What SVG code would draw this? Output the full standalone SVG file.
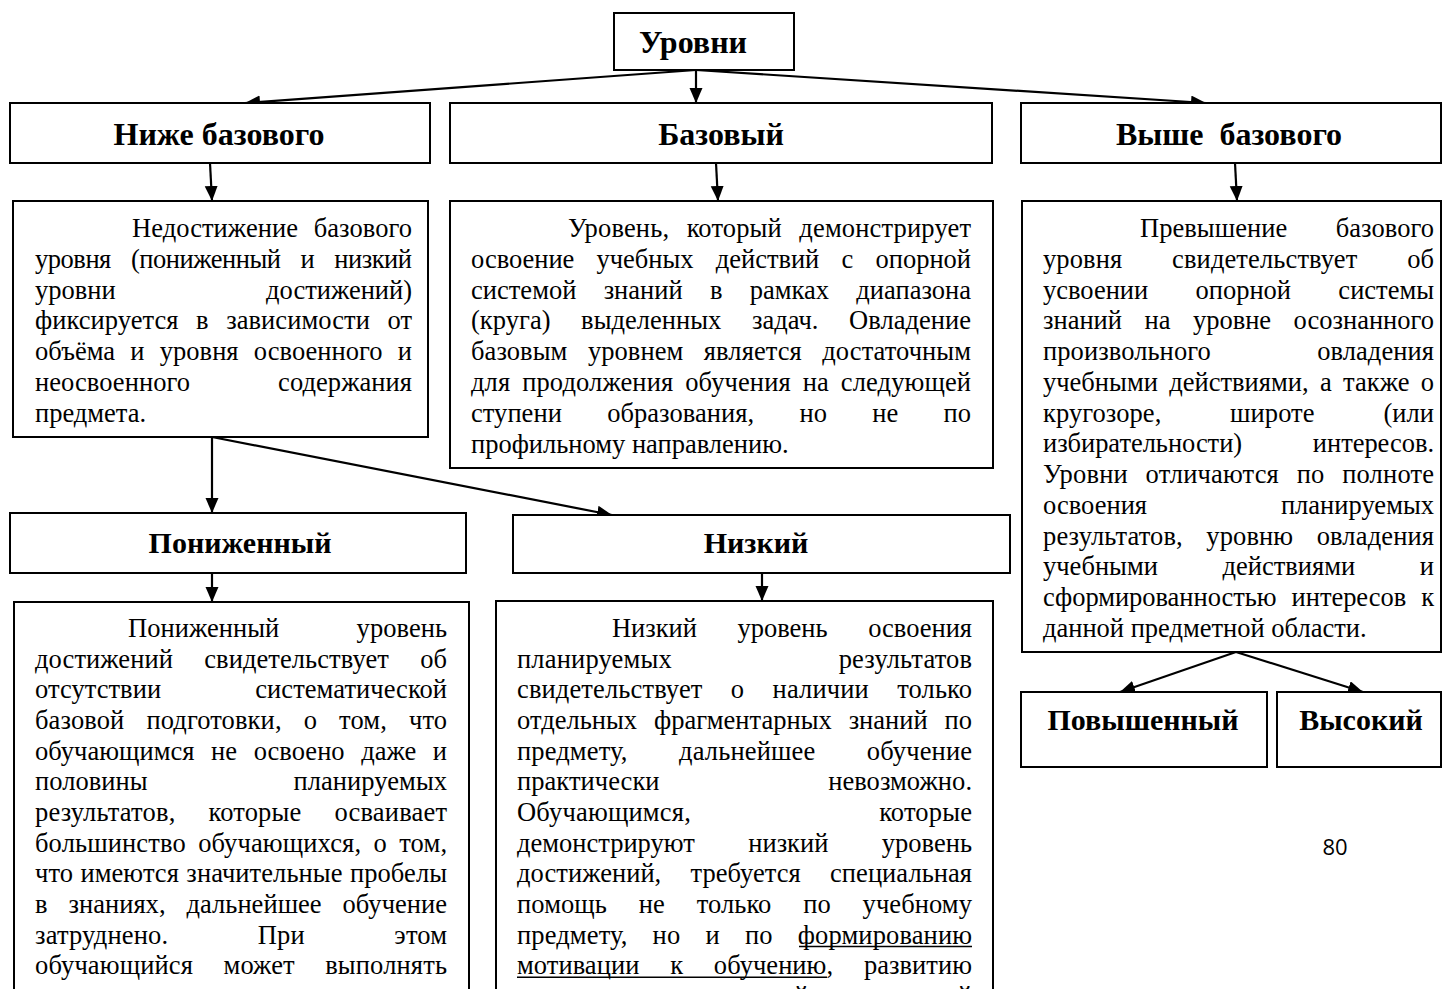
<svg xmlns="http://www.w3.org/2000/svg" width="1443" height="989" viewBox="0 0 1443 989">
<style>
.b{fill:#fff;stroke:#000;stroke-width:2}
.h{font-family:"Liberation Serif","Times New Roman",serif;font-weight:bold;font-size:30px;text-anchor:middle;fill:#000}
.hl{font-size:32px}
.t{font-family:"Liberation Serif","Times New Roman",serif;font-size:26.5px;fill:#000}
.c{fill:none;stroke:#000;stroke-width:2.2;marker-end:url(#a)}
.u{stroke:#000;stroke-width:1.4}
</style>
<defs>
<marker id="a" markerUnits="userSpaceOnUse" markerWidth="16" markerHeight="14" refX="15" refY="6.5" orient="auto">
<path d="M0,0 L15,6.5 L0,13 z" fill="#000"/>
</marker>
</defs>
<rect width="1443" height="989" fill="#fff"/>

<g id="connectors">
<line class="c" x1="696" y1="70" x2="245" y2="103"/>
<line class="c" x1="696" y1="70" x2="696" y2="103"/>
<line class="c" x1="696" y1="70" x2="1206" y2="103"/>
<line class="c" x1="210" y1="163" x2="212" y2="201"/>
<line class="c" x1="716" y1="163" x2="718" y2="201"/>
<line class="c" x1="1235" y1="163" x2="1237" y2="201"/>
<line class="c" x1="212" y1="437" x2="212" y2="513"/>
<line class="c" x1="212" y1="437" x2="612" y2="515"/>
<line class="c" x1="212" y1="573" x2="212" y2="602"/>
<line class="c" x1="762" y1="573" x2="762" y2="601"/>
<line class="c" x1="1236" y1="652" x2="1120" y2="692"/>
<line class="c" x1="1236" y1="652" x2="1363" y2="692"/>
</g>

<g id="n-urovni">
<rect class="b" x="614" y="13" width="180" height="57"/>
<text class="h hl" x="693" y="53">Уровни</text>
</g>

<g id="n-nizhe">
<rect class="b" x="10" y="103" width="420" height="60"/>
<text class="h hl" x="219" y="145">Ниже базового</text>
</g>

<g id="n-bazovyi">
<rect class="b" x="450" y="103" width="542" height="60"/>
<text class="h hl" x="721" y="145">Базовый</text>
</g>

<g id="n-vyshe">
<rect class="b" x="1021" y="103" width="420" height="60"/>
<text class="h hl" x="1229" y="145" style="white-space:pre">Выше  базового</text>
</g>

<g id="n-nizhe-desc">
<rect class="b" x="13" y="201" width="415" height="236"/>
<text class="t" x="132" y="237" textLength="280" lengthAdjust="spacing" word-spacing="9.1">Недостижение базового</text>
<text class="t" x="35" y="268" textLength="377" lengthAdjust="spacing" word-spacing="13.9">уровня (пониженный и низкий</text>
<text class="t" x="35" y="299" textLength="377" lengthAdjust="spacing" word-spacing="143.9">уровни достижений)</text>
<text class="t" x="35" y="329" textLength="377" lengthAdjust="spacing" word-spacing="10.9">фиксируется в зависимости от</text>
<text class="t" x="35" y="360" textLength="377" lengthAdjust="spacing" word-spacing="8.5">объёма и уровня освоенного и</text>
<text class="t" x="35" y="391" textLength="377" lengthAdjust="spacing" word-spacing="81.4">неосвоенного содержания</text>
<text class="t" x="35" y="422">предмета.</text>
</g>

<g id="n-bazovyi-desc">
<rect class="b" x="450" y="201" width="543" height="267"/>
<text class="t" x="568" y="237" textLength="403" lengthAdjust="spacing" word-spacing="10.6">Уровень, который демонстрирует</text>
<text class="t" x="471" y="268" textLength="500" lengthAdjust="spacing" word-spacing="15.7">освоение учебных действий с опорной</text>
<text class="t" x="471" y="299" textLength="500" lengthAdjust="spacing" word-spacing="20.6">системой знаний в рамках диапазона</text>
<text class="t" x="471" y="329" textLength="500" lengthAdjust="spacing" word-spacing="23.9">(круга) выделенных задач. Овладение</text>
<text class="t" x="471" y="360" textLength="500" lengthAdjust="spacing" word-spacing="13.8">базовым уровнем является достаточным</text>
<text class="t" x="471" y="391" textLength="500" lengthAdjust="spacing" word-spacing="5.2">для продолжения обучения на следующей</text>
<text class="t" x="471" y="422" textLength="500" lengthAdjust="spacing" word-spacing="38.6">ступени образования, но не по</text>
<text class="t" x="471" y="453">профильному направлению.</text>
</g>

<g id="n-vyshe-desc">
<rect class="b" x="1022" y="201" width="419" height="451"/>
<text class="t" x="1140" y="237" textLength="294" lengthAdjust="spacing" word-spacing="41.8">Превышение базового</text>
<text class="t" x="1043" y="267.8" textLength="391" lengthAdjust="spacing" word-spacing="43">уровня свидетельствует об</text>
<text class="t" x="1043" y="298.5" textLength="391" lengthAdjust="spacing" word-spacing="40.7">усвоении опорной системы</text>
<text class="t" x="1043" y="329.3" textLength="391" lengthAdjust="spacing" word-spacing="15.9">знаний на уровне осознанного</text>
<text class="t" x="1043" y="360" textLength="391" lengthAdjust="spacing" word-spacing="99.6">произвольного овладения</text>
<text class="t" x="1043" y="390.8" textLength="391" lengthAdjust="spacing" word-spacing="4.7">учебными действиями, а также о</text>
<text class="t" x="1043" y="421.5" textLength="391" lengthAdjust="spacing" word-spacing="62.1">кругозоре, широте (или</text>
<text class="t" x="1043" y="452.3" textLength="391" lengthAdjust="spacing" word-spacing="64.2">избирательности) интересов.</text>
<text class="t" x="1043" y="483" textLength="391" lengthAdjust="spacing" word-spacing="10.9">Уровни отличаются по полноте</text>
<text class="t" x="1043" y="513.8" textLength="391" lengthAdjust="spacing" word-spacing="127.2">освоения планируемых</text>
<text class="t" x="1043" y="544.5" textLength="391" lengthAdjust="spacing" word-spacing="16.6">результатов, уровню овладения</text>
<text class="t" x="1043" y="575.3" textLength="391" lengthAdjust="spacing" word-spacing="57.9">учебными действиями и</text>
<text class="t" x="1043" y="606" textLength="391" lengthAdjust="spacing" word-spacing="8.4">сформированностью интересов к</text>
<text class="t" x="1043" y="636.8">данной предметной области.</text>
</g>

<g id="n-ponizhennyi">
<rect class="b" x="10" y="513" width="456" height="60"/>
<text class="h" x="240" y="553">Пониженный</text>
</g>

<g id="n-nizkii">
<rect class="b" x="513" y="515" width="497" height="58"/>
<text class="h" x="756" y="553">Низкий</text>
</g>

<g id="n-ponizhennyi-desc">
<rect class="b" x="14" y="602" width="455" height="400"/>
<text class="t" x="128" y="637" textLength="319" lengthAdjust="spacing" word-spacing="70.7">Пониженный уровень</text>
<text class="t" x="35" y="667.7" textLength="412" lengthAdjust="spacing" word-spacing="24.6">достижений свидетельствует об</text>
<text class="t" x="35" y="698.3" textLength="412" lengthAdjust="spacing" word-spacing="87.5">отсутствии систематической</text>
<text class="t" x="35" y="729" textLength="412" lengthAdjust="spacing" word-spacing="15.3">базовой подготовки, о том, что</text>
<text class="t" x="35" y="759.6" textLength="412" lengthAdjust="spacing" word-spacing="9.9">обучающимся не освоено даже и</text>
<text class="t" x="35" y="790.3" textLength="412" lengthAdjust="spacing" word-spacing="139.2">половины планируемых</text>
<text class="t" x="35" y="820.9" textLength="412" lengthAdjust="spacing" word-spacing="26.2">результатов, которые осваивает</text>
<text class="t" x="35" y="851.6" textLength="412" lengthAdjust="spacing" word-spacing="5.6">большинство обучающихся, о том,</text>
<text class="t" x="35" y="882.2" textLength="412" lengthAdjust="spacing" word-spacing="0.7">что имеются значительные пробелы</text>
<text class="t" x="35" y="912.9" textLength="412" lengthAdjust="spacing" word-spacing="14.2">в знаниях, дальнейшее обучение</text>
<text class="t" x="35" y="943.5" textLength="412" lengthAdjust="spacing" word-spacing="82.7">затруднено. При этом</text>
<text class="t" x="35" y="974.2" textLength="412" lengthAdjust="spacing" word-spacing="23.6">обучающийся может выполнять</text>
</g>

<g id="n-nizkii-desc">
<rect class="b" x="496" y="601" width="497" height="401"/>
<text class="t" x="612" y="637" textLength="360" lengthAdjust="spacing" word-spacing="34">Низкий уровень освоения</text>
<text class="t" x="517" y="667.7" textLength="455" lengthAdjust="spacing" word-spacing="160">планируемых результатов</text>
<text class="t" x="517" y="698.3" textLength="455" lengthAdjust="spacing" word-spacing="21.6">свидетельствует о наличии только</text>
<text class="t" x="517" y="729" textLength="455" lengthAdjust="spacing" word-spacing="10.2">отдельных фрагментарных знаний по</text>
<text class="t" x="517" y="759.6" textLength="455" lengthAdjust="spacing" word-spacing="44.8">предмету, дальнейшее обучение</text>
<text class="t" x="517" y="790.3" textLength="455" lengthAdjust="spacing" word-spacing="162">практически невозможно.</text>
<text class="t" x="517" y="820.9" textLength="455" lengthAdjust="spacing" word-spacing="181.4">Обучающимся, которые</text>
<text class="t" x="517" y="851.6" textLength="455" lengthAdjust="spacing" word-spacing="46.8">демонстрируют низкий уровень</text>
<text class="t" x="517" y="882.2" textLength="455" lengthAdjust="spacing" word-spacing="22.6">достижений, требуется специальная</text>
<text class="t" x="517" y="912.9" textLength="455" lengthAdjust="spacing" word-spacing="25">помощь не только по учебному</text>
<text class="t" x="517" y="943.5" textLength="455" lengthAdjust="spacing" word-spacing="18.4">предмету, но и по формированию</text>
<text class="t" x="517" y="974.2" textLength="455" lengthAdjust="spacing" word-spacing="24.1">мотивации к обучению, развитию</text>
<text class="t" x="517" y="1004.8" textLength="455" lengthAdjust="spacing" word-spacing="23">интереса к изучаемой предметной</text>
<line class="u" x1="799" y1="946.5" x2="972" y2="946.5"/>
<line class="u" x1="517" y1="977.2" x2="827" y2="977.2"/>
</g>

<g id="n-povyshennyi">
<rect class="b" x="1021" y="692" width="246" height="75"/>
<text class="h" x="1143" y="730">Повышенный</text>
</g>

<g id="n-vysokii">
<rect class="b" x="1277" y="692" width="164" height="75"/>
<text class="h" x="1361" y="730">Высокий</text>
</g>

<text x="1335" y="855" style="font-family:'Open Sans','Liberation Sans',sans-serif;font-size:22px;text-anchor:middle;fill:#000">80</text>
</svg>
